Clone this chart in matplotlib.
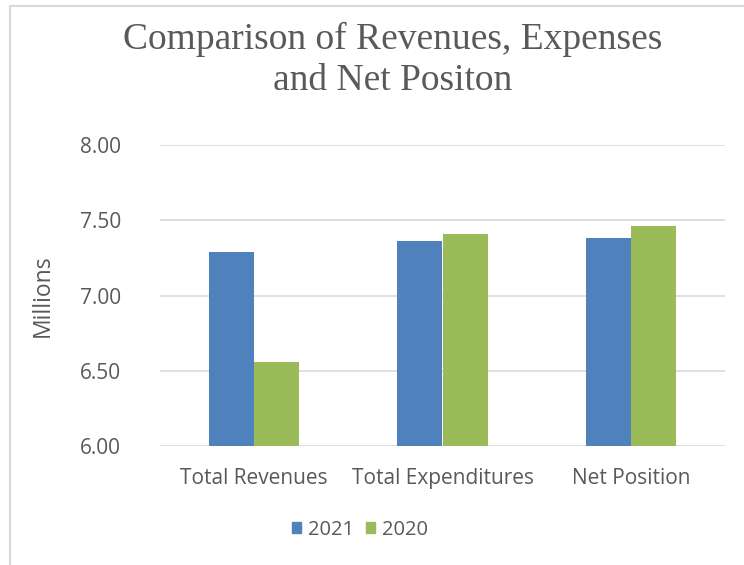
import matplotlib.pyplot as plt
import numpy as np
from matplotlib.patches import Rectangle, Patch

categories = ["Total Revenues", "Total Expenditures", "Net Position"]
values_2021 = [7.29, 7.36, 7.38]
values_2020 = [6.56, 7.41, 7.46]
yticks = [6.00, 6.50, 7.00, 7.50, 8.00]

blue = "#4F81BD"
green = "#9BBB59"
txt = "#595959"
grid = "#D9D9D9"

fig = plt.figure(figsize=(7.44, 5.65), dpi=100)
ax = fig.add_axes([160/744, 119/565, 565/744, 301/565])

# chart frame
fig.patches.append(Rectangle((10/744, -0.05), 1.0, 1.05 - 6/565, transform=fig.transFigure,
                             fill=False, edgecolor=grid, linewidth=1.5))

x = np.arange(len(categories))
w = 0.24
ax.bar(x - w/2, np.array(values_2021) - 6, w, bottom=6, color=blue, label="2021", zorder=3)
ax.bar(x + w/2, np.array(values_2020) - 6, w, bottom=6, color=green, label="2020", zorder=3)

ax.set_xlim(-0.5, 2.5)
ax.set_ylim(6, 8)
ax.set_yticks(yticks)
ax.set_yticklabels(["%.2f" % v for v in yticks])
ax.set_xticks(x)
ax.set_xticklabels(categories)
ax.grid(axis="y", color=grid, linewidth=1.2, zorder=0)
for s in ax.spines.values():
    s.set_visible(False)
ax.tick_params(length=0, labelsize=15, labelcolor=txt)
ax.tick_params(axis="y", pad=28)
ax.tick_params(axis="x", pad=16)
for lab in ax.get_xticklabels() + ax.get_yticklabels():
    lab.set_fontfamily("Open Sans")

ax.set_ylabel("Millions", fontsize=16.5, color=txt, fontfamily="Open Sans", labelpad=18)

fig.text(393/744, 1 - 60/565, "Comparison of Revenues, Expenses\nand Net Positon",
         ha="center", va="center", fontsize=27, color=txt, fontfamily="Liberation Serif",
         linespacing=1.22)

handles = [Patch(color=blue, label="2021"), Patch(color=green, label="2020")]
leg = fig.legend(handles=handles, loc="center", bbox_to_anchor=(360/744, 1 - 530/565),
                 ncol=2, frameon=False, handlelength=0.45, handleheight=0.45,
                 handletextpad=0.35, columnspacing=0.55,
                 prop={"family": "Open Sans", "size": 14.5})
for t in leg.get_texts():
    t.set_color(txt)

fig.savefig("out.png", dpi=100)
